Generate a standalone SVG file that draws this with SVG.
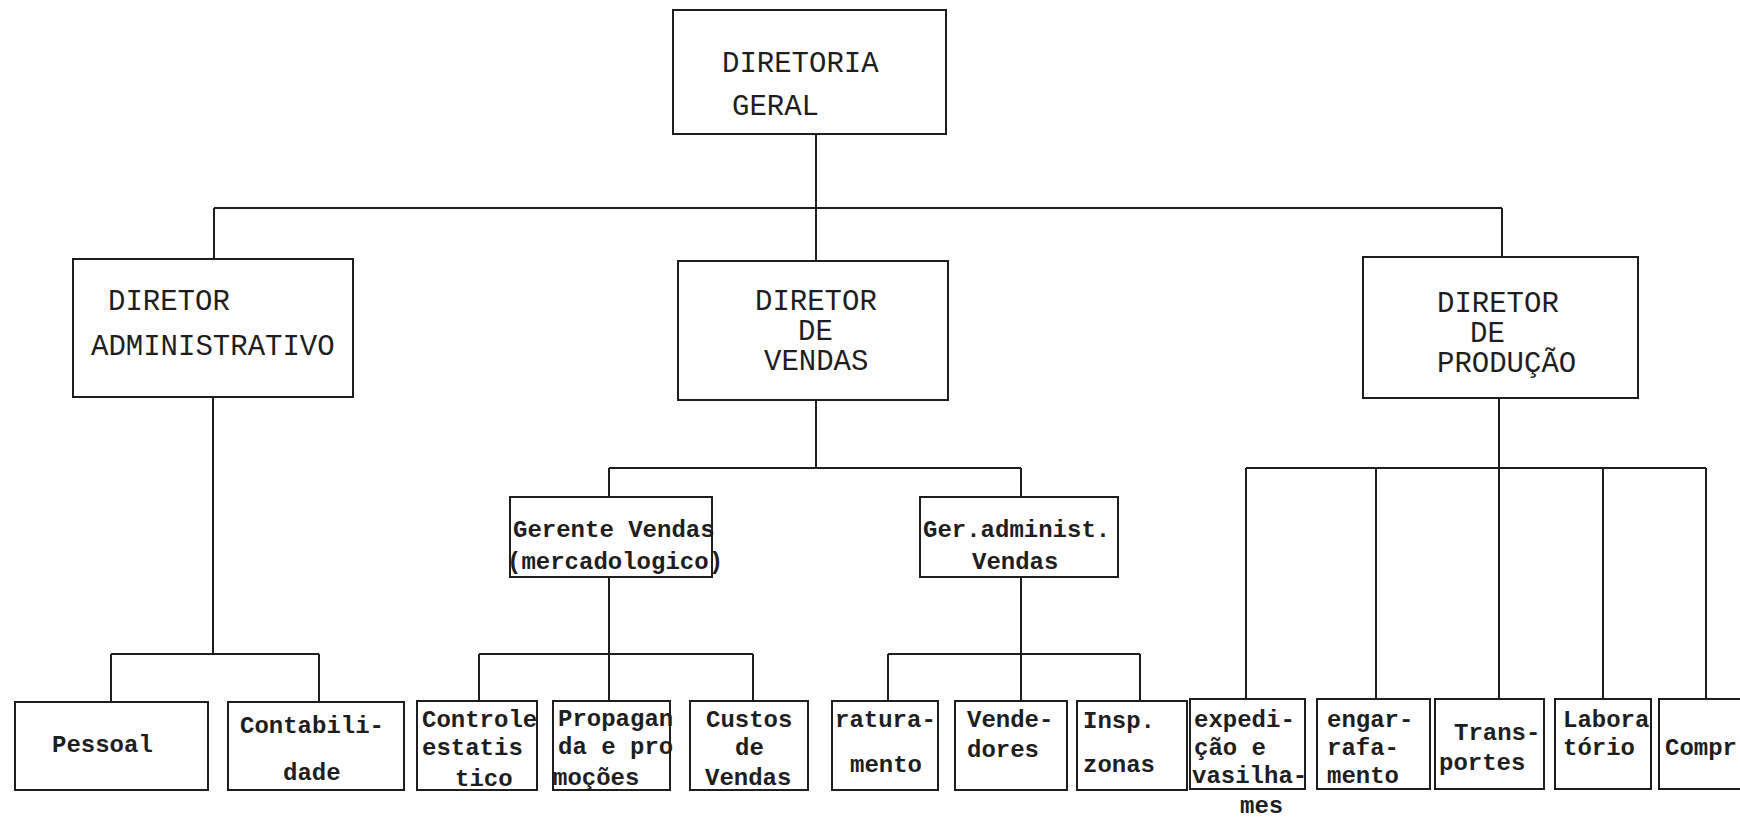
<svg xmlns="http://www.w3.org/2000/svg" width="1740" height="819" viewBox="0 0 1740 819">
<style>
  .bg { fill: #ffffff; }
  .box { fill: none; stroke: #1e1e1e; stroke-width: 2; }
  .con { fill: none; stroke: #1e1e1e; stroke-width: 2; }
  .up { font-family: "Liberation Mono", "Courier New", monospace; font-size: 29px; fill: #1e1e1e; }
  .lo { font-family: "Liberation Mono", "Courier New", monospace; font-size: 24px; font-weight: bold; fill: #1e1e1e; }
</style>
<rect class="bg" x="0" y="0" width="1740" height="819"/>

<g id="connectors">
  <!-- top level -->
  <path class="con" d="M816 134 V260"/>
  <path class="con" d="M214 208 H1502"/>
  <path class="con" d="M214 208 V258"/>
  <path class="con" d="M1502 208 V257"/>
  <!-- admin -->
  <path class="con" d="M213 397 V654"/>
  <path class="con" d="M111 654 H319"/>
  <path class="con" d="M111 654 V702"/>
  <path class="con" d="M319 654 V702"/>
  <!-- vendas -->
  <path class="con" d="M816 400 V468"/>
  <path class="con" d="M609 468 H1021"/>
  <path class="con" d="M609 468 V497"/>
  <path class="con" d="M1021 468 V497"/>
  <path class="con" d="M609 577 V700"/>
  <path class="con" d="M479 654 H753"/>
  <path class="con" d="M479 654 V700"/>
  <path class="con" d="M753 654 V700"/>
  <path class="con" d="M1021 577 V700"/>
  <path class="con" d="M888 654 H1140"/>
  <path class="con" d="M888 654 V700"/>
  <path class="con" d="M1140 654 V700"/>
  <!-- producao -->
  <path class="con" d="M1499 398 V698"/>
  <path class="con" d="M1246 468 H1706"/>
  <path class="con" d="M1246 468 V698"/>
  <path class="con" d="M1376 468 V698"/>
  <path class="con" d="M1603 468 V698"/>
  <path class="con" d="M1706 468 V698"/>
</g>

<g id="diretoria-geral">
  <rect class="box" x="673" y="10" width="273" height="124"/>
  <text class="up" x="722" y="72">DIRETORIA</text>
  <text class="up" x="732" y="115">GERAL</text>
</g>

<g id="diretor-administrativo">
  <rect class="box" x="73" y="259" width="280" height="138"/>
  <text class="up" x="108" y="310">DIRETOR</text>
  <text class="up" x="91" y="355">ADMINISTRATIVO</text>
</g>

<g id="diretor-vendas">
  <rect class="box" x="678" y="261" width="270" height="139"/>
  <text class="up" x="755" y="310">DIRETOR</text>
  <text class="up" x="798" y="340">DE</text>
  <text class="up" x="764" y="370">VENDAS</text>
</g>

<g id="diretor-producao">
  <rect class="box" x="1363" y="257" width="275" height="141"/>
  <text class="up" x="1437" y="312">DIRETOR</text>
  <text class="up" x="1470" y="342">DE</text>
  <text class="up" x="1437" y="372">PRODUÇÃO</text>
</g>

<g id="gerente-vendas">
  <rect class="box" x="510" y="497" width="202" height="80"/>
  <text class="lo" x="513" y="537">Gerente Vendas</text>
  <text class="lo" x="507" y="569">(mercadologico)</text>
</g>

<g id="ger-administ-vendas">
  <rect class="box" x="920" y="497" width="198" height="80"/>
  <text class="lo" x="923" y="537">Ger.administ.</text>
  <text class="lo" x="972" y="569">Vendas</text>
</g>

<g id="pessoal">
  <rect class="box" x="15" y="702" width="193" height="88"/>
  <text class="lo" x="52" y="752">Pessoal</text>
</g>

<g id="contabilidade">
  <rect class="box" x="228" y="702" width="176" height="88"/>
  <text class="lo" x="240" y="733">Contabili-</text>
  <text class="lo" x="283" y="780">dade</text>
</g>

<g id="controle-estatistico">
  <rect class="box" x="417" y="701" width="120" height="89"/>
  <text class="lo" x="422" y="727">Controle</text>
  <text class="lo" x="422" y="755">estatis</text>
  <text class="lo" x="455" y="786">tico</text>
</g>

<g id="propaganda">
  <rect class="box" x="553" y="701" width="117" height="89"/>
  <text class="lo" x="558" y="726">Propagan</text>
  <text class="lo" x="558" y="754">da e pro</text>
  <text class="lo" x="553" y="785">moções</text>
</g>

<g id="custos-vendas">
  <rect class="box" x="690" y="701" width="118" height="89"/>
  <text class="lo" x="706" y="727">Custos</text>
  <text class="lo" x="735" y="755">de</text>
  <text class="lo" x="705" y="785">Vendas</text>
</g>

<g id="faturamento">
  <rect class="box" x="832" y="701" width="106" height="89"/>
  <text class="lo" x="835" y="727">ratura-</text>
  <text class="lo" x="850" y="772">mento</text>
</g>

<g id="vendedores">
  <rect class="box" x="955" y="701" width="112" height="89"/>
  <text class="lo" x="967" y="727">Vende-</text>
  <text class="lo" x="967" y="757">dores</text>
</g>

<g id="insp-zonas">
  <rect class="box" x="1077" y="701" width="110" height="89"/>
  <text class="lo" x="1083" y="728">Insp.</text>
  <text class="lo" x="1083" y="772">zonas</text>
</g>

<g id="expedicao">
  <rect class="box" x="1190" y="699" width="115" height="90"/>
  <text class="lo" x="1194" y="727">expedi-</text>
  <text class="lo" x="1194" y="755">ção e</text>
  <text class="lo" x="1192" y="783">vasilha-</text>
  <text class="lo" x="1240" y="813">mes</text>
</g>

<g id="engarrafamento">
  <rect class="box" x="1317" y="699" width="113" height="90"/>
  <text class="lo" x="1327" y="727">engar-</text>
  <text class="lo" x="1327" y="755">rafa-</text>
  <text class="lo" x="1327" y="783">mento</text>
</g>

<g id="transportes">
  <rect class="box" x="1435" y="699" width="109" height="90"/>
  <text class="lo" x="1454" y="740">Trans-</text>
  <text class="lo" x="1439" y="770">portes</text>
</g>

<g id="laboratorio">
  <rect class="box" x="1555" y="699" width="96" height="90"/>
  <text class="lo" x="1563" y="727">Labora</text>
  <text class="lo" x="1563" y="755">tório</text>
</g>

<g id="compras">
  <rect class="box" x="1659" y="699" width="100" height="90"/>
  <text class="lo" x="1665" y="755">Compr</text>
</g>
</svg>
